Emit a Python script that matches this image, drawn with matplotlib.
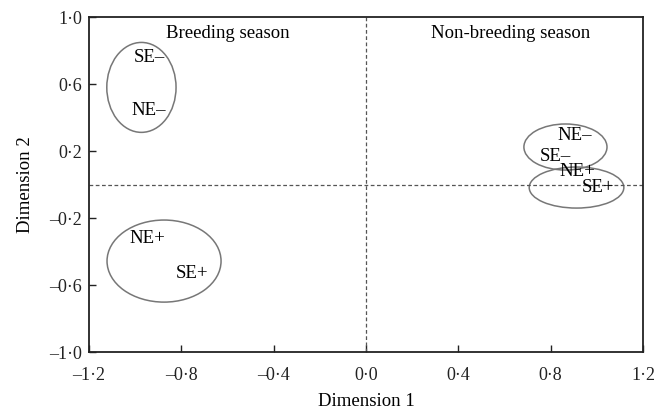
import matplotlib.pyplot as plt
from matplotlib.patches import Ellipse
from matplotlib.ticker import FuncFormatter

plt.rcParams['font.family'] = ['Liberation Serif', 'DejaVu Serif']
plt.rcParams['font.size'] = 13

# point labels and positions
labels = ["SE\u2013", "NE\u2013", "NE+", "SE+", "NE\u2013", "SE\u2013", "NE+", "SE+"]
dim1 = [-0.94, -0.94, -0.945, -0.755, 0.905, 0.82, 0.915, 1.005]
dim2 = [0.76, 0.44, -0.32, -0.53, 0.295, 0.17, 0.08, -0.02]

# grouping ellipses: centre, width, height
ell_x = [-0.973, -0.875, 0.864, 0.912]
ell_y = [0.58, -0.457, 0.224, -0.018]
ell_w = [0.30, 0.494, 0.36, 0.41]
ell_h = [0.537, 0.49, 0.275, 0.245]

seasons = ["Breeding season", "Non-breeding season"]
season_x = [-0.6, 0.625]
season_y = 0.90

xticks = [-1.2, -0.8, -0.4, 0.0, 0.4, 0.8, 1.2]
yticks = [-1.0, -0.6, -0.2, 0.2, 0.6, 1.0]

def fmt(v, pos):
    s = "%.1f" % abs(v)
    s = s.replace(".", "\u00b7")
    if v < -1e-9:
        s = "\u2013" + s
    return s

fig = plt.figure(figsize=(6.57, 4.16), dpi=100)
ax = fig.add_axes([0.1355, 0.1538, 0.8432, 0.8052])

for i in range(len(ell_x)):
    e = Ellipse((ell_x[i], ell_y[i]), ell_w[i], ell_h[i], fill=False,
                edgecolor="#777777", linewidth=1.1)
    ax.add_patch(e)

for i in range(len(labels)):
    ax.text(dim1[i], dim2[i], labels[i], ha="center", va="center", fontsize=13.5)

for i in range(len(seasons)):
    ax.text(season_x[i], season_y, seasons[i], ha="center", va="center", fontsize=13.5)

ax.axhline(0, color="#555555", linestyle=(0, (3, 2)), linewidth=0.9)
ax.axvline(0, color="#555555", linestyle=(0, (3, 2)), linewidth=0.9)

ax.set_xlim(-1.2, 1.2)
ax.set_ylim(-1.0, 1.0)
ax.set_xticks(xticks)
ax.set_yticks(yticks)
ax.xaxis.set_major_formatter(FuncFormatter(fmt))
ax.yaxis.set_major_formatter(FuncFormatter(fmt))
ax.tick_params(direction="in", length=5, width=1, labelsize=13, colors="#222222")
ax.tick_params(axis="x", pad=10.5)
ax.tick_params(axis="y", pad=5)
for sp in ax.spines.values():
    sp.set_linewidth(1.3)
    sp.set_color("#222222")

ax.set_xlabel("Dimension 1", fontsize=13.5, labelpad=7)
ax.set_ylabel("Dimension 2", fontsize=13.5, labelpad=11)

fig.savefig("out.png", dpi=100)
